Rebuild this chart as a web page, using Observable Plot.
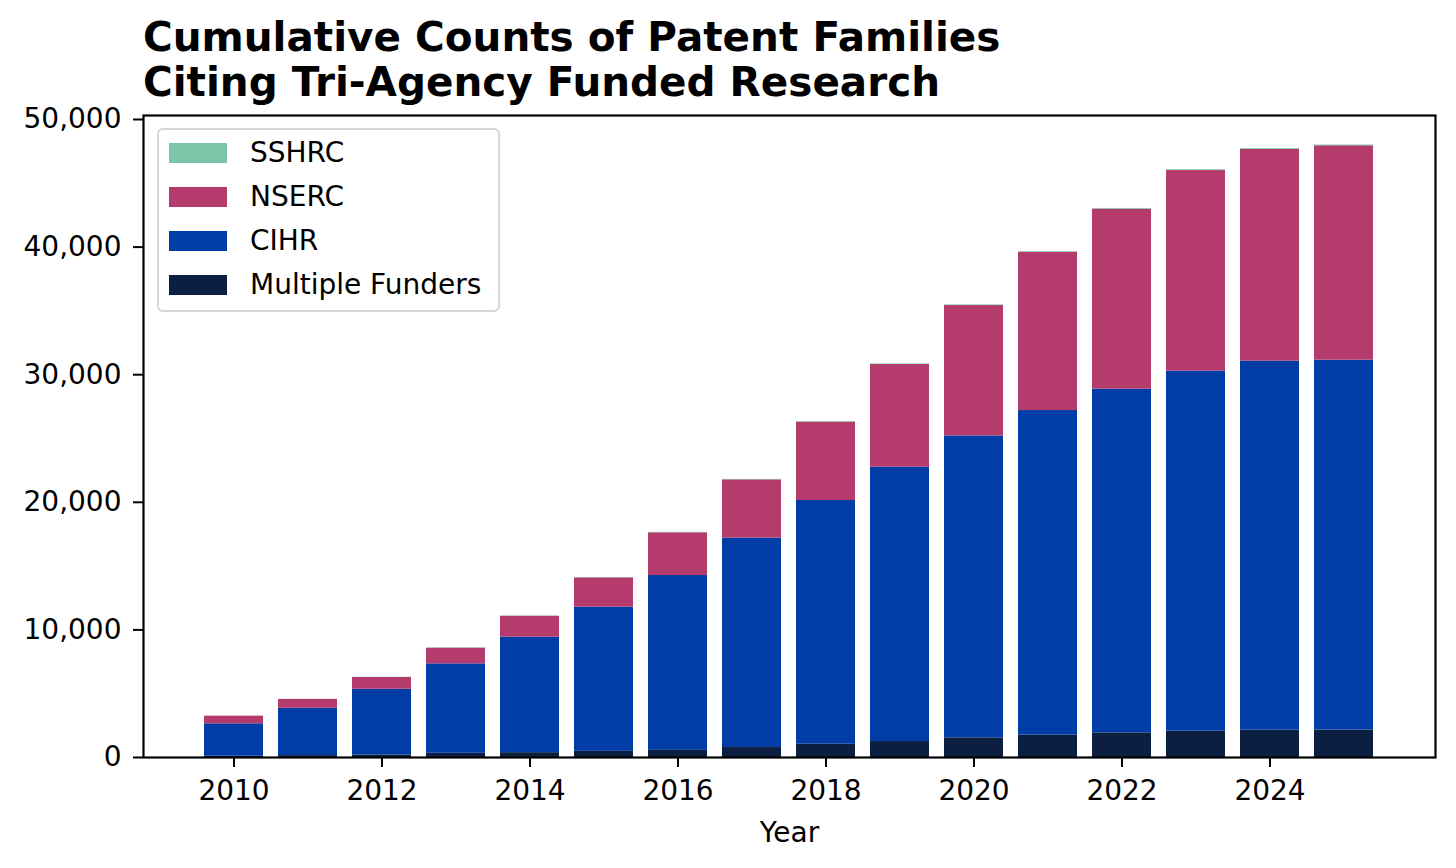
<!DOCTYPE html>
<html>
<head>
<meta charset="utf-8">
<script src="https://cdn.jsdelivr.net/npm/d3@7"></script>
<script src="https://cdn.jsdelivr.net/npm/@observablehq/plot@0.6"></script>
<style>
  html, body { margin: 0; padding: 0; background: #fff; }
  #wrap { position: relative; width: 1456px; height: 868px; font-family: "DejaVu Sans", sans-serif; color: #000; }
  #title { margin: 0; padding: 15px 0 0 143px; font-weight: bold; font-size: 40.5px; line-height: 45px; height: 88px; }
  #legend { position: absolute; left: 157px; top: 128px; width: 339px; height: 180px; box-sizing: content-box;
            border: 2px solid rgba(204,204,204,0.8); border-radius: 6px; background: rgba(255,255,255,0.8); }
  .row { position: absolute; left: 10px; height: 20px; display: flex; align-items: center; }
  .sw { width: 58px; height: 20px; }
  .lab { margin-left: 23px; font-size: 28px; line-height: 20px; white-space: nowrap; }
  svg { display: block; }
</style>
</head>
<body>
<div id="wrap">
  <div id="title">Cumulative Counts of Patent Families<br>Citing Tri-Agency Funded Research</div>
  <div id="chart"></div>
  <div id="legend"></div>
</div>
<script>
// ---- data (cumulative segment values) ----
const years = [2010, 2011, 2012, 2013, 2014, 2015, 2016, 2017, 2018, 2019, 2020, 2021, 2022, 2023, 2024, 2025];
const seriesNames = ["Multiple Funders", "CIHR", "NSERC", "SSHRC"];
const multipleFunders = [100, 150, 200, 330, 380, 480, 560, 780, 1040, 1250, 1540, 1750, 1930, 2060, 2140, 2150];
const cihr = [2540, 3710, 5150, 7010, 9050, 11300, 13700, 16410, 19100, 21500, 23660, 25440, 26940, 28220, 28920, 28990];
const nserc = [600, 690, 920, 1230, 1640, 2300, 3350, 4570, 6140, 8050, 10220, 12390, 14100, 15720, 16590, 16800];
const sshrc = [5, 10, 15, 20, 25, 30, 30, 35, 40, 45, 50, 55, 60, 60, 60, 60];
const seriesColors = ["#0c1f40", "#003da6", "#b53b6c", "#7cc5a6"];
const xTicks = [2010, 2012, 2014, 2016, 2018, 2020, 2022, 2024];
const yTicks = [0, 10000, 20000, 30000, 40000, 50000];
const legendOrder = ["SSHRC", "NSERC", "CIHR", "Multiple Funders"];

const valuesBySeries = {
  "Multiple Funders": multipleFunders,
  "CIHR": cihr,
  "NSERC": nserc,
  "SSHRC": sshrc
};
const data = years.flatMap((year, i) =>
  seriesNames.map(s => ({year, series: s, value: valuesBySeries[s][i]}))
);

const chart = Plot.plot({
  width: 1456,
  height: 765,
  marginTop: 12,
  marginBottom: 111,
  marginLeft: 143,
  marginRight: 21,
  style: {fontFamily: "DejaVu Sans, sans-serif", fontSize: "28px", color: "#000", background: "#fff"},
  x: {type: "band", domain: years, paddingInner: 0.2, paddingOuter: 0.79, label: null},
  y: {domain: [0, 50313], label: null},
  color: {domain: seriesNames, range: seriesColors},
  marks: [
    Plot.barY(data, {x: "year", y: "value", fill: "series", order: seriesNames}),
    Plot.frame({stroke: "#000", strokeWidth: 2.2}),
    Plot.axisX({ticks: xTicks, tickFormat: d => String(d), tickSize: 10, tickPadding: 13, strokeWidth: 2, fontSize: 28, label: null}),
    Plot.axisY({ticks: yTicks, tickFormat: d3.format(","), tickSize: 10, tickPadding: 12, strokeWidth: 2, fontSize: 28, label: null}),
    Plot.text(["Year"], {frameAnchor: "bottom", lineAnchor: "bottom", dy: 84, fontSize: 28, fill: "#000"})
  ]
});
document.getElementById("chart").appendChild(chart);

// ---- legend (HTML, built from the series arrays) ----
const legend = document.getElementById("legend");
legendOrder.forEach((name, i) => {
  const row = document.createElement("div");
  row.className = "row";
  row.style.top = (13 + i * 44) + "px";
  const sw = document.createElement("div");
  sw.className = "sw";
  sw.style.background = seriesColors[seriesNames.indexOf(name)];
  const lab = document.createElement("div");
  lab.className = "lab";
  lab.textContent = name;
  row.appendChild(sw);
  row.appendChild(lab);
  legend.appendChild(row);
});
</script>
</body>
</html>
